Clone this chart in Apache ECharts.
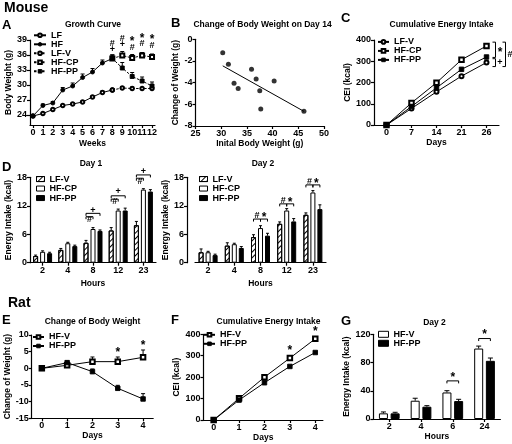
<!DOCTYPE html>
<html><head><meta charset="utf-8">
<script src="https://cdn.jsdelivr.net/npm/echarts@6/dist/echarts.min.js"></script>
<style>html,body{margin:0;padding:0;background:#fff}#c{width:512px;height:444px}</style>
</head><body><div id="c"></div>
<script>
// ---------- DATA ----------
// Panel A: growth curve (weeks)
const aWeeksPre = [0,1,2,3,4,5,6,7,8];
const aWeeksPost = [8,9,10,11,12];
const aTicksX = [0,1,2,3,4,5,6,7,8,9,10,11,12];
const aTicksY = [24,27,30,33,36,39];
const aLF = [23.8,24.3,25.1,25.9,26.2,26.6,27.6,28.5,29.0];
const aLFErr = [0.2,0.2,0.2,0.2,0.2,0.2,0.2,0.3,0.3];
const aHF = [23.8,25.9,26.4,29.0,29.8,31.5,32.6,34.4,35.3];
const aHFErr = [0.2,0.3,0.3,0.5,0.6,0.7,0.7,0.6,0.7];
const aLFV = [29.0,29.4,29.3,29.3,29.3];
const aLFVErr = [0.3,0.3,0.3,0.2,0.2];
const aHFCP = [35.3,35.9,35.4,35.9,35.6];
const aHFCPErr = [0.7,0.8,0.7,0.6,0.6];
const aHFPP = [35.3,33.4,31.7,30.8,29.8];
const aHFPPErr = [0.7,1.1,0.8,0.8,0.8];
const aMarks = [[8,38.3,'#'],[8,37.1,'+'],[9,39.3,'#'],[9,38.1,'+'],[10,39.2,'*'],[10,37.5,'#'],[11,39.7,'*'],[11,38.2,'#'],[12,39.6,'*'],[12,37.8,'#']];

// Panel B: scatter
const bX = [30.3,31.4,32.5,33.3,35.9,36.8,37.5,37.7,40.3,46.1];
const bY = [-1.23,-2.3,-4.06,-4.55,-2.77,-3.66,-4.74,-6.42,-3.84,-6.64];
const bFitX = [30.3,46.1];
const bFitY = [-2.45,-6.65];

// Panel C: cumulative energy intake (mouse)
const cDays = ['0','7','14','21','26'];
const cLFV = [0,78,156,230,294];
const cHFCP = [0,104,199,307,372];
const cHFPP = [0,87,175,262,320];
const cBrackets = [[4,390,318,9,'*'],[4,312,275,9,'+'],[4,390,275,19,'#']];

// Panel D: energy intake by hour
const dHours = ['2','4','8','12','23'];
const d1LFV = [1.4,2.7,4.2,6.8,7.9];   const d1LFVErr = [0.2,0.3,0.5,0.6,0.8];
const d1HFCP = [2.3,4.1,7.1,11.0,15.4]; const d1HFCPErr = [0.2,0.2,0.3,0.3,0.2];
const d1HFPP = [2.0,3.5,6.7,11.0,15.0]; const d1HFPPErr = [0.2,0.2,0.2,0.5,0.4];
const d1Brackets = [[2,10.4,0,2],[2,9.7,0,1],[3,14.1,0,2],[3,13.4,0,1],[4,18.5,0,2],[4,17.8,0,1]];
const d1Marks = [[2,11.1,1,'+'],[2,9.1,0.5,'#'],[3,14.9,1,'+'],[3,12.9,0.5,'#'],[4,19.3,1,'+'],[4,17.2,0.5,'#']];
const d2LFV = [2.2,3.6,5.4,8.2,10.1];   const d2LFVErr = [0.7,0.6,0.5,0.4,0.4];
const d2HFCP = [2.2,3.9,7.3,11.0,14.8]; const d2HFCPErr = [0.2,0.2,0.5,0.4,0.4];
const d2HFPP = [1.6,3.1,5.7,8.7,11.3];  const d2HFPPErr = [0.2,0.3,0.5,0.6,0.9];
const d2Brackets = [[2,9.2,0,1],[2,9.2,1,2],[3,12.4,0,1],[3,12.4,1,2],[4,16.4,0,1],[4,16.4,1,2]];
const d2Marks = [[2,10.0,0.5,'#'],[2,10.0,1.5,'*'],[3,13.2,0.5,'#'],[3,13.2,1.5,'*'],[4,17.2,0.5,'#'],[4,17.2,1.5,'*']];

// Panel E: rat change of body weight
const eDays = [0,1,2,3,4];
const eHFV = [0,0.9,2.0,2.0,3.3];    const eHFVErr = [0.3,0.4,1.4,1.4,2.2];
const eHFPP = [0,1.7,-1.0,-6.0,-9.2]; const eHFPPErr = [0.3,0.5,0.8,0.9,1.6];
const eMarks = [[3,5.6,'*'],[4,7.7,'*']];

// Panel F: rat cumulative energy intake
const fDays = [0,1,2,3,4];
const fHFV = [0,101,200,289,379];
const fHFPP = [0,93,174,250,315];
const fMarks = [[3,336,'*'],[4,425,'*']];

// Panel G: rat energy intake day 2
const gHours = ['2','4','6','24'];
const gHFV = [8.0,25.9,37.6,99.8];  const gHFVErr = [2,3.5,2.5,3.5];
const gHFPP = [8.0,17.4,25.4,82.4]; const gHFPPErr = [1.5,1.5,2.5,4];
const gBrackets = [[2,54,0,1],[3,114,0,1]];
const gMarks = [[2,62,0.5,'*'],[3,123,0.5,'*']];

// ---------- STYLE HELPERS ----------
const FONT = '"Liberation Sans", Arial, sans-serif';
const K = '#000';
const font = (s) => 'bold ' + s + 'px ' + FONT;

function baseAxis(gi, o) {
  const a = {
    gridIndex: gi,
    axisLine: {show: true, onZero: false, lineStyle: {color: K, width: 1.2}},
    axisTick: {show: true, length: 3, lineStyle: {color: K, width: 1.2}},
    axisLabel: {show: true, color: K, fontSize: 9, fontWeight: 'bold', fontFamily: FONT, margin: 3, hideOverlap: false},
    splitLine: {show: false},
    name: o.name || '', nameLocation: 'middle', nameGap: o.gap == null ? 15 : o.gap,
    nameTextStyle: {color: K, fontSize: 8.5, fontWeight: 'bold', fontFamily: FONT},
  };
  if (o.offset) a.offset = o.offset;
  return a;
}
function valAxis(gi, o) {
  const a = baseAxis(gi, o);
  a.type = 'value'; a.min = o.min; a.max = o.max;
  if (o.interval != null) a.interval = o.interval;
  if (o.ticks) { a.axisLabel.customValues = o.ticks; a.axisTick.customValues = o.ticks; }
  return a;
}
function catAxis(gi, cats, o) {
  const a = baseAxis(gi, o);
  a.type = 'category'; a.data = cats; a.boundaryGap = true;
  a.axisTick.alignWithLabel = true;
  a.axisLabel.interval = 0;
  return a;
}
function lineS(name, gi, xs, ys, sym, dashed, size) {
  return {type: 'line', name, xAxisIndex: gi, yAxisIndex: gi,
    data: xs.map((x, i) => [x, ys[i]]), symbol: sym, symbolSize: size || 4, showSymbol: true,
    lineStyle: {color: K, width: 1, type: dashed ? [2.5, 1.5] : 'solid'},
    itemStyle: {color: K, borderColor: K, borderWidth: 0.9},
    emphasis: {disabled: true}, z: 3, animation: false};
}
function barS(name, gi, ys, fill, hatch, bw, gap) {
  const it = {color: fill, borderColor: K, borderWidth: 1};
  if (hatch) it.decal = {symbol: 'rect', symbolSize: 1, color: K, dashArrayX: [1, 0], dashArrayY: [1, 2.2], rotation: -Math.PI / 4};
  return {type: 'bar', name, xAxisIndex: gi, yAxisIndex: gi, data: ys, barWidth: bw, barGap: gap,
    itemStyle: it, emphasis: {disabled: true}, z: 2, animation: false};
}
function errS(gi, xs, ys, errs, off, cap, z) {
  return {type: 'custom', xAxisIndex: gi, yAxisIndex: gi, silent: true, z: z, clip: false,
    data: xs.map((x, i) => [x, ys[i], ys[i] + errs[i]]),
    renderItem(params, api) {
      const p0 = api.coord([api.value(0), api.value(1)]);
      const p1 = api.coord([api.value(0), api.value(2)]);
      const x = p0[0] + off;
      return {type: 'group', children: [
        {type: 'line', shape: {x1: x, y1: p0[1], x2: x, y2: p1[1]}, style: {stroke: K, lineWidth: 1}},
        {type: 'line', shape: {x1: x - cap, y1: p1[1], x2: x + cap, y2: p1[1]}, style: {stroke: K, lineWidth: 1}}
      ]};
    }};
}
// items: [x, y, barPos, text]; px offset = (barPos - center) * step
function textS(gi, items, step, center) {
  return {type: 'custom', xAxisIndex: gi, yAxisIndex: gi, silent: true, z: 8, clip: false,
    data: items.map(d => [d[0], d[1]]),
    renderItem(params, api) {
      const it = items[params.dataIndex];
      const txt = it[it.length - 1];
      const pos = it.length > 3 ? it[2] : center;
      const p = api.coord([api.value(0), api.value(1)]);
      const sz = txt === '*' ? 12 : 9;
      const dy = txt === '*' ? sz * 0.22 : 0;
      return {type: 'text', x: p[0] + (pos - center) * step, y: p[1] + dy,
        style: {text: txt, fill: K, font: font(sz), textAlign: 'center', textVerticalAlign: 'middle'}};
    }};
}
// items: [cat, value, fromBar, toBar]
function bracketS(gi, items, step, center) {
  return {type: 'custom', xAxisIndex: gi, yAxisIndex: gi, silent: true, z: 7, clip: false,
    data: items.map(d => [d[0], d[1]]),
    renderItem(params, api) {
      const it = items[params.dataIndex];
      const p = api.coord([api.value(0), api.value(1)]);
      const x1 = p[0] + (it[2] - center) * step, x2 = p[0] + (it[3] - center) * step, y = p[1];
      return {type: 'polyline', shape: {points: [[x1, y + 2.5], [x1, y], [x2, y], [x2, y + 2.5]]}, style: {stroke: K, lineWidth: 1, fill: null}};
    }};
}
// side brackets: [cat, v1, v2, pxOffset, text]
function sideBracketS(gi, items) {
  return {type: 'custom', xAxisIndex: gi, yAxisIndex: gi, silent: true, z: 7, clip: false,
    data: items.map(d => [d[0], d[1], d[2]]),
    renderItem(params, api) {
      const it = items[params.dataIndex];
      const a = api.coord([api.value(0), api.value(1)]);
      const b = api.coord([api.value(0), api.value(2)]);
      const x = a[0] + it[3];
      const sz = it[4] === '*' ? 12 : 9;
      return {type: 'group', children: [
        {type: 'polyline', shape: {points: [[x - 3, a[1]], [x, a[1]], [x, b[1]], [x - 3, b[1]]]}, style: {stroke: K, lineWidth: 1, fill: null}},
        {type: 'text', x: x + 4.5, y: (a[1] + b[1]) / 2 + (it[4] === '*' ? sz * 0.22 : 0),
          style: {text: it[4], fill: K, font: font(sz), textAlign: 'center', textVerticalAlign: 'middle'}}
      ]};
    }};
}
function legendC(data, left, top, o) {
  const l = {data, left, top, orient: 'vertical', selectedMode: false, padding: 0,
    itemWidth: o.w, itemHeight: o.h, itemGap: o.gap || 0,
    formatter: n => n.split('|')[1],
    itemStyle: {borderWidth: o.icon ? 1 : 0.9},
    textStyle: {color: K, fontSize: 9, fontWeight: 'bold', fontFamily: FONT, lineHeight: o.lh}};
  if (o.icon) l.icon = o.icon;
  return l;
}
function gtext(t, x, y, s, al, va) {
  return {type: 'text', x, y, silent: true,
    style: {text: t, fill: K, font: font(s), textAlign: al || 'left', textVerticalAlign: va || 'top'}};
}

// ---------- GRIDS ----------
const G = (l, t, w, h) => ({left: l, top: t, width: w, height: h, containLabel: false, outerBoundsMode: 'none'});
const grids = [
  G(30, 40, 125, 85),        // A
  G(195.5, 39.3, 128.5, 86.7), // B
  G(374, 40, 125, 85),       // C
  G(30, 177.3, 126, 85.4),   // D1
  G(195, 177.3, 131, 85.4),  // D2
  G(31.7, 335, 121.5, 83.3), // E
  G(203.5, 334.3, 119.4, 85.7), // F
  G(373.4, 334.3, 127, 84.7) // G
];

const xAxes = [
  valAxis(0, {min: -0.3, max: 12.3, ticks: aTicksX, name: 'Weeks', gap: 14}),
  valAxis(1, {min: 25, max: 50, interval: 5, name: 'Inital Body Weight (g)', gap: 12}),
  catAxis(2, cDays, {name: 'Days', gap: 13}),
  catAxis(3, dHours, {name: 'Hours', gap: 16}),
  catAxis(4, dHours, {name: 'Hours', gap: 16}),
  valAxis(5, {min: -0.4, max: 4.4, ticks: [0,1,2,3,4], name: 'Days', gap: 11}),
  valAxis(6, {min: -0.4, max: 4.3, ticks: [0,1,2,3,4], name: 'Days', gap: 11}),
  catAxis(7, gHours, {name: 'Hours', gap: 11})
];
const yAxes = [
  valAxis(0, {min: 22, max: 39, ticks: aTicksY, name: 'Body Weight (g)', gap: 15}),
  valAxis(1, {min: -8, max: 0, interval: 2, name: 'Change of Weight (g)', gap: 15.5}),
  valAxis(2, {min: 0, max: 400, interval: 100, name: 'CEI (kcal)', gap: 19.5}),
  valAxis(3, {min: 0, max: 18, interval: 6, name: 'Energy Intake (kcal)', gap: 15}),
  valAxis(4, {min: 0, max: 18, interval: 6, name: 'Energy Intake (kcal)', gap: 11, offset: 8}),
  valAxis(5, {min: -15, max: 10, interval: 5, name: 'Change of Weight (g)', gap: 20}),
  valAxis(6, {min: 0, max: 400, interval: 100, name: 'CEI (kcal)', gap: 22.5}),
  valAxis(7, {min: 0, max: 120, interval: 40, name: 'Energy Intake (kcal)', gap: 21.5})
];

const idx5 = [0,1,2,3,4], idx4 = [0,1,2,3];
const series = [
  // A
  errS(0, aWeeksPre, aLF, aLFErr, 0, 2, 1),
  errS(0, aWeeksPre, aHF, aHFErr, 0, 2, 1),
  errS(0, aWeeksPost, aLFV, aLFVErr, 0, 2, 1),
  errS(0, aWeeksPost, aHFCP, aHFCPErr, 0, 2, 1),
  errS(0, aWeeksPost, aHFPP, aHFPPErr, 0, 2, 1),
  lineS('A|LF', 0, aWeeksPre, aLF, 'emptyCircle', false, 3.5),
  lineS('A|HF', 0, aWeeksPre, aHF, 'circle', false, 4),
  lineS('A|LF-V', 0, aWeeksPost, aLFV, 'emptyCircle', true, 3.5),
  lineS('A|HF-CP', 0, aWeeksPost, aHFCP, 'emptyRect', true, 4),
  lineS('A|HF-PP', 0, aWeeksPost, aHFPP, 'rect', true, 4),
  textS(0, aMarks, 0, 0),
  // B
  {type: 'scatter', xAxisIndex: 1, yAxisIndex: 1, data: bX.map((x, i) => [x, bY[i]]), symbol: 'circle', symbolSize: 5,
    itemStyle: {color: K}, emphasis: {disabled: true}, z: 3},
  {type: 'line', xAxisIndex: 1, yAxisIndex: 1, data: bFitX.map((x, i) => [x, bFitY[i]]), symbol: 'none',
    lineStyle: {color: K, width: 1}, emphasis: {disabled: true}, z: 2},
  // C
  lineS('C|LF-V', 2, idx5, cLFV, 'emptyCircle', false, 4),
  lineS('C|HF-CP', 2, idx5, cHFCP, 'emptyRect', false, 4.5),
  lineS('C|HF-PP', 2, idx5, cHFPP, 'rect', false, 4.5),
  sideBracketS(2, cBrackets),
  // D1
  barS('D1|LF-V', 3, d1LFV, '#fff', true, 5, '40%'),
  barS('D1|HF-CP', 3, d1HFCP, '#fff', false, 5, '40%'),
  barS('D1|HF-PP', 3, d1HFPP, K, false, 5, '40%'),
  errS(3, idx5, d1LFV, d1LFVErr, -7, 1.5, 5),
  errS(3, idx5, d1HFCP, d1HFCPErr, 0, 1.5, 5),
  errS(3, idx5, d1HFPP, d1HFPPErr, 7, 1.5, 5),
  bracketS(3, d1Brackets, 7, 1),
  textS(3, d1Marks, 7, 1),
  // D2
  barS('D2|LF-V', 4, d2LFV, '#fff', true, 5, '40%'),
  barS('D2|HF-CP', 4, d2HFCP, '#fff', false, 5, '40%'),
  barS('D2|HF-PP', 4, d2HFPP, K, false, 5, '40%'),
  errS(4, idx5, d2LFV, d2LFVErr, -7, 1.5, 5),
  errS(4, idx5, d2HFCP, d2HFCPErr, 0, 1.5, 5),
  errS(4, idx5, d2HFPP, d2HFPPErr, 7, 1.5, 5),
  bracketS(4, d2Brackets, 7, 1),
  textS(4, d2Marks, 7, 1),
  // E
  errS(5, eDays, eHFV, eHFVErr, 0, 2, 1),
  errS(5, eDays, eHFPP, eHFPPErr, 0, 2, 1),
  lineS('E|HF-V', 5, eDays, eHFV, 'emptyRect', false, 4.5),
  lineS('E|HF-PP', 5, eDays, eHFPP, 'rect', false, 4.5),
  textS(5, eMarks, 0, 0),
  // F
  lineS('F|HF-V', 6, fDays, fHFV, 'emptyRect', false, 4.5),
  lineS('F|HF-PP', 6, fDays, fHFPP, 'rect', false, 4.5),
  textS(6, fMarks, 0, 0),
  // G
  barS('G|HF-V', 7, gHFV, '#fff', false, 9, '30%'),
  barS('G|HF-PP', 7, gHFPP, K, false, 9, '30%'),
  errS(7, idx4, gHFV, gHFVErr, -5.85, 2.5, 5),
  errS(7, idx4, gHFPP, gHFPPErr, 5.85, 2.5, 5),
  bracketS(7, gBrackets, 11.7, 0.5),
  textS(7, gMarks, 11.7, 0.5)
];

const legends = [
  legendC(['A|LF','A|HF','A|LF-V','A|HF-CP','A|HF-PP'], 33, 30.8, {w: 12, h: 4.5, lh: 8.3}),
  legendC(['C|LF-V','C|HF-CP','C|HF-PP'], 377, 37.4, {w: 11, h: 4.5, lh: 8.6}),
  legendC(['D1|LF-V','D1|HF-CP','D1|HF-PP'], 36, 174.3, {w: 8, h: 5, lh: 9.5, icon: 'rect'}),
  legendC(['D2|LF-V','D2|HF-CP','D2|HF-PP'], 199, 174.3, {w: 8, h: 5, lh: 9.5, icon: 'rect'}),
  legendC(['E|HF-V','E|HF-PP'], 32, 332.5, {w: 11, h: 4.5, lh: 8.3}),
  legendC(['F|HF-V','F|HF-PP'], 203, 330.3, {w: 11, h: 4.5, lh: 8}),
  legendC(['G|HF-V','G|HF-PP'], 378, 329.8, {w: 10, h: 6, lh: 9, icon: 'rect'})
];

const graphics = [
  gtext('Mouse', 4, 1, 14), gtext('Rat', 8, 296, 14),
  gtext('A', 2, 19, 13), gtext('B', 171, 17, 13), gtext('C', 341, 12, 13),
  gtext('D', 2, 161, 13), gtext('E', 2, 314, 13), gtext('F', 171, 314, 13), gtext('G', 341, 315, 13),
  gtext('Growth Curve', 93, 25, 8.5, 'center', 'middle'),
  gtext('Change of Body Weight on Day 14', 262.5, 25, 8.5, 'center', 'middle'),
  gtext('Cumulative Energy Intake', 441.5, 25, 8.5, 'center', 'middle'),
  gtext('Day 1', 91, 163.3, 8.5, 'center', 'middle'),
  gtext('Day 2', 263, 163.3, 8.5, 'center', 'middle'),
  gtext('Change of Body Weight', 92.5, 321.7, 8.5, 'center', 'middle'),
  gtext('Cumulative Energy Intake', 268.5, 321.7, 8.5, 'center', 'middle'),
  gtext('Day 2', 434.5, 323, 8.5, 'center', 'middle')
];

const chart = echarts.init(document.getElementById('c'), null, {renderer: 'canvas', width: 512, height: 444});
chart.setOption({
  backgroundColor: '#fff',
  animation: false,
  textStyle: {fontFamily: FONT},
  grid: grids, xAxis: xAxes, yAxis: yAxes,
  legend: legends, graphic: graphics, series: series
});
</script></body></html>
